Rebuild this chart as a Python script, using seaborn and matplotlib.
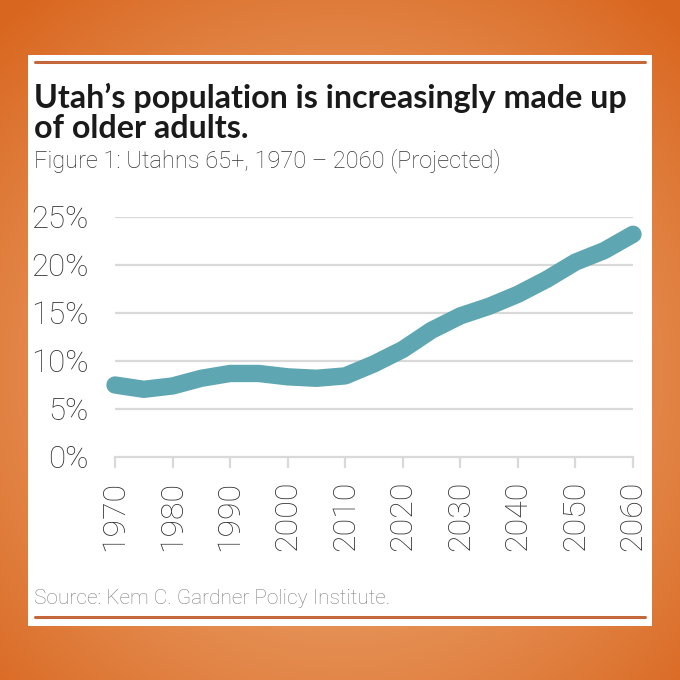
import numpy as np
import pandas as pd
import seaborn as sns
import matplotlib.pyplot as plt
from matplotlib.patches import Rectangle
from matplotlib.lines import Line2D

# share of Utahns aged 65+, every 5 years
years = [1970, 1975, 1980, 1985, 1990, 1995, 2000, 2005, 2010, 2015,
         2020, 2025, 2030, 2035, 2040, 2045, 2050, 2055, 2060]
share = [7.5, 7.05, 7.4, 8.2, 8.7, 8.7, 8.35, 8.2, 8.45, 9.7,
         11.2, 13.2, 14.7, 15.7, 16.95, 18.5, 20.3, 21.5, 23.2]
year_ticks = [1970, 1980, 1990, 2000, 2010, 2020, 2030, 2040, 2050, 2060]
pct_ticks = [0, 5, 10, 15, 20, 25]

df = pd.DataFrame({'year': years, 'share': share})

sns.set_theme(style="white")
plt.rcParams['font.family'] = ['Roboto', 'DejaVu Sans']
LIGHT = ['Roboto', 'DejaVu Sans']

W = H = 680
fig = plt.figure(figsize=(6.8, 6.8), dpi=100)

# orange radial background
bg = fig.add_axes([0, 0, 1, 1], zorder=0)
yy, xx = np.mgrid[0:1:300j, 0:1:300j]
r = np.sqrt((xx - 0.5) ** 2 + (yy - 0.55) ** 2) / 0.72
r = np.clip(r, 0, 1)
c_in = np.array([0.93, 0.67, 0.47])
c_out = np.array([0.85, 0.40, 0.12])
img = c_in[None, None, :] * (1 - r[..., None] ** 1.4) + c_out[None, None, :] * r[..., None] ** 1.4
bg.imshow(img, extent=[0, 1, 0, 1], aspect='auto', origin='upper')
bg.axis('off')

def fx(px):
    return px / W

def fy(py):
    return 1 - py / H

# white card
fig.patches.append(Rectangle((fx(28), fy(626)), fx(652) - fx(28), fy(55) - fy(626),
                             transform=fig.transFigure, facecolor='white',
                             edgecolor='none', zorder=1))
rule_col = '#c4673b'
for py in (62, 617):
    fig.lines.append(Line2D([fx(35), fx(645)], [fy(py), fy(py)], transform=fig.transFigure,
                            color=rule_col, linewidth=2.2, zorder=2))

fig.text(fx(34), fy(98), "Utah\u2019s population is increasingly made up",
         fontsize=23.2, fontweight='bold', color='#1a1a1a', va='center', zorder=3,
         family=['Lato', 'DejaVu Sans'])
fig.text(fx(34), fy(129), "of older adults.",
         fontsize=23.2, fontweight='bold', color='#1a1a1a', va='center', zorder=3,
         family=['Lato', 'DejaVu Sans'])
fig.text(fx(34), fy(161), "Figure 1: Utahns 65+, 1970 \u2013 2060 (Projected)",
         fontsize=17, fontweight='light', color='#333333', va='center', zorder=3,
         family=LIGHT)
fig.text(fx(34), fy(598), "Source: Kem C. Gardner Policy Institute.",
         fontsize=15, fontweight='light', color='#7f7f7f', va='center', zorder=3,
         family=LIGHT)

ax = fig.add_axes([fx(115), fy(457), fx(633) - fx(115), fy(217) - fy(457)], zorder=4)
ax.patch.set_alpha(0)

grid_col = '#d9d9d9'
for v in pct_ticks[1:]:
    ax.axhline(v, color=grid_col, linewidth=1.6, zorder=1)

sns.lineplot(data=df, x='year', y='share', ax=ax, color='#5ea7b2', linewidth=12.5,
             solid_capstyle='round', solid_joinstyle='round', clip_on=False, zorder=3)

ax.set_xlim(1970, 2060)
ax.set_ylim(0, 25)
ax.set_xticks(year_ticks)
ax.set_xticklabels([str(y) for y in year_ticks], rotation=90)
ax.set_yticks(pct_ticks)
ax.set_yticklabels([f"{v}%" for v in pct_ticks])
ax.set_xlabel('')
ax.set_ylabel('')

for s in ('top', 'right', 'left'):
    ax.spines[s].set_visible(False)
ax.spines['bottom'].set_color(grid_col)
ax.spines['bottom'].set_linewidth(1.6)

ax.tick_params(axis='x', direction='out', length=8, width=1.6, color=grid_col,
               pad=9, labelsize=23, labelcolor='#333333', bottom=True)
ax.tick_params(axis='y', length=0, pad=19, labelsize=22.5, labelcolor='#333333')
for lab in ax.get_yticklabels() + ax.get_xticklabels():
    lab.set_fontweight('light')
    lab.set_family(LIGHT)

fig.savefig('out.png', dpi=100)
